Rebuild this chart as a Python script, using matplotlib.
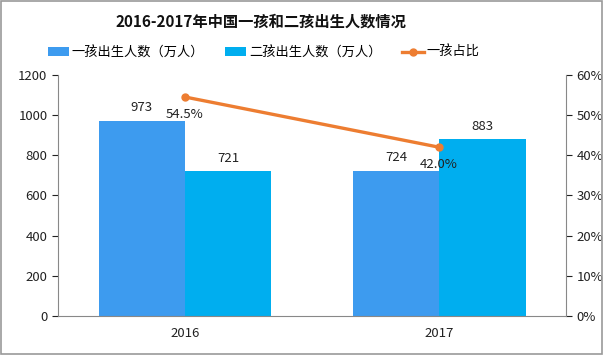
import numpy as np
import matplotlib.pyplot as plt

plt.rcParams['font.family'] = ['Noto Sans CJK SC', 'DejaVu Sans']

years = ['2016', '2017']
first_child = [973, 724]
second_child = [721, 883]
first_share = [54.5, 42.0]

c1 = '#3d9bef'
c2 = '#00aeef'
c_line = '#ed7d31'

fig = plt.figure(figsize=(6.03, 3.55), dpi=100)
fig.patch.set_facecolor('white')
ax = fig.add_axes([0.096, 0.110, 0.843, 0.679])

x = np.arange(len(years))
w = 0.34
b1 = ax.bar(x - w / 2, first_child, w, color=c1, label='一孩出生人数（万人）')
b2 = ax.bar(x + w / 2, second_child, w, color=c2, label='二孩出生人数（万人）')
for rect, v in zip(list(b1) + list(b2), first_child + second_child):
    ax.text(rect.get_x() + rect.get_width() / 2, v + 30, str(v),
            ha='center', va='bottom', fontsize=9.5, color='#222222')

ax.set_xlim(-0.5, 1.5)
ax.set_ylim(0, 1200)
ax.set_yticks(range(0, 1201, 200))
ax.set_xticks(x)
ax.set_xticklabels(years)
ax.tick_params(axis='both', labelsize=9.5, colors='#222222', direction='out', length=4)
ax.tick_params(axis='x', length=0, pad=8)
for s in ['top', 'right']:
    ax.spines[s].set_visible(False)
ax.spines['left'].set_color('#888888')
ax.spines['bottom'].set_color('#888888')

ax2 = ax.twinx()
ln, = ax2.plot(x, first_share, color=c_line, lw=2.4, marker='o', ms=5,
               label='一孩占比')
for xi, v in zip(x, first_share):
    ax2.annotate(f'{v:.1f}%', (xi, v), xytext=(0, -8), textcoords='offset points',
                 ha='center', va='top', fontsize=9.5, color='#222222')
ax2.set_ylim(0, 60)
ax2.set_yticks(range(0, 61, 10))
ax2.set_yticklabels([f'{t}%' for t in range(0, 61, 10)])
ax2.tick_params(axis='y', labelsize=9.5, colors='#222222', length=4)
for s in ['top', 'left', 'bottom']:
    ax2.spines[s].set_visible(False)
ax2.spines['right'].set_color('#888888')

fig.text(0.433, 0.938, '2016-2017年中国一孩和二孩出生人数情况', ha='center', va='center',
         fontsize=11, fontweight='bold', color='#111111')
fig.legend(handles=[b1, b2, ln], loc='center', bbox_to_anchor=(0.437, 0.852), ncol=3,
           frameon=False, fontsize=9.5, handlelength=1.6, columnspacing=1.6,
           handletextpad=0.2)

fig.add_artist(plt.Rectangle((0.002, 0.003), 0.996, 0.994, transform=fig.transFigure,
                             fill=False, edgecolor='#999999', lw=1.2))

fig.savefig('out.png', dpi=100)
